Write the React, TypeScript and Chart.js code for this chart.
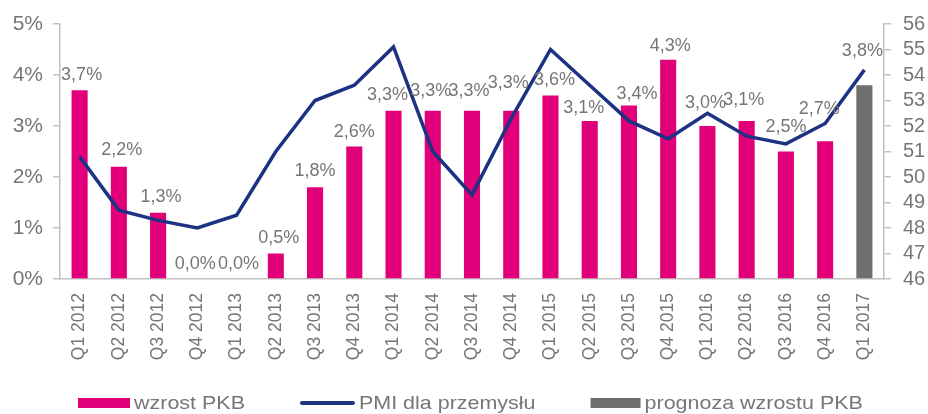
import React, { useEffect, useRef } from "react";
import { Chart, registerables } from "chart.js";

Chart.register(...registerables);

const categories = [
  "Q1 2012", "Q2 2012", "Q3 2012", "Q4 2012",
  "Q1 2013", "Q2 2013", "Q3 2013", "Q4 2013",
  "Q1 2014", "Q2 2014", "Q3 2014", "Q4 2014",
  "Q1 2015", "Q2 2015", "Q3 2015", "Q4 2015",
  "Q1 2016", "Q2 2016", "Q3 2016", "Q4 2016",
  "Q1 2017",
];
const gdpGrowth: (number | null)[] = [
  3.7, 2.2, 1.3, 0.0, 0.0, 0.5, 1.8, 2.6, 3.3, 3.3, 3.3, 3.3,
  3.6, 3.1, 3.4, 4.3, 3.0, 3.1, 2.5, 2.7, null,
];
const gdpForecast: (number | null)[] = [
  null, null, null, null, null, null, null, null, null, null, null, null,
  null, null, null, null, null, null, null, null, 3.8,
];
const pmi = [
  50.8, 48.7, 48.3, 48.0, 48.5, 51.0, 53.0, 53.6, 55.1, 51.0, 49.3, 52.3,
  55.0, 53.6, 52.2, 51.5, 52.5, 51.6, 51.3, 52.1, 54.2,
];
const leftTicks = [0, 1, 2, 3, 4, 5];
const rightTicks = [46, 47, 48, 49, 50, 51, 52, 53, 54, 55, 56];
const legendLabels = ["wzrost PKB", "PMI dla przemysłu", "prognoza wzrostu PKB"];

// label placement (style): lift above bar top and horizontal nudge, per category
const labelLift = [15, 17, 16, 15, 15, 15, 16, 14, 16, 20, 20, 28, 15, 13, 12, 14, 23, 21, 24, 32, 34];
const labelNudge = [2, 3, 3, -2, 2, 3, 0, 0, -6, -2, -3, -3, 4, -6, 8, 2, -2, -3, 0, -6, -2];

const PINK = "#E2007A";
const GREY_BAR = "#6F6F6F";
const NAVY = "#1D3282";
const TEXT = "#767676";
const AXIS = "#C0C0C0";
const FONT = "'Liberation Sans', Arial, sans-serif";

const fmt = (v: number) => v.toFixed(1).replace(".", ",") + "%";

const barLabels = {
  id: "barLabels",
  afterDatasetsDraw(chart: any) {
    const ctx = chart.ctx;
    ctx.save();
    ctx.font = "18px " + FONT;
    ctx.fillStyle = TEXT;
    ctx.textAlign = "center";
    ctx.textBaseline = "middle";
    [0, 2].forEach((di) => {
      const meta = chart.getDatasetMeta(di);
      const data = chart.data.datasets[di].data;
      meta.data.forEach((el: any, i: number) => {
        const v = data[i];
        if (v === null || v === undefined) return;
        ctx.fillText(fmt(v), el.x + labelNudge[i], el.y - labelLift[i]);
      });
    });
    ctx.restore();
  },
};

const customLegend = {
  id: "customLegend",
  afterDraw(chart: any) {
    const ctx = chart.ctx;
    ctx.save();
    const y = 403;
    const sx = 1.13;
    ctx.font = "19px " + FONT;
    ctx.textBaseline = "middle";
    let x = 78;
    const items = [
      { type: "box", color: PINK, w: 52 },
      { type: "line", color: NAVY, w: 55 },
      { type: "box", color: GREY_BAR, w: 50 },
    ];
    items.forEach((it, i) => {
      if (it.type === "box") {
        ctx.fillStyle = it.color;
        ctx.fillRect(x, y - 5, it.w, 10);
      } else {
        ctx.strokeStyle = it.color;
        ctx.lineWidth = 4;
        ctx.lineCap = "round";
        ctx.beginPath();
        ctx.moveTo(x + 2, y);
        ctx.lineTo(x + it.w - 2, y);
        ctx.stroke();
      }
      x += it.w + 4;
      const label = legendLabels[i];
      const tw = ctx.measureText(label).width * sx;
      ctx.save();
      ctx.translate(x, y + 1);
      ctx.scale(sx, 1);
      ctx.fillStyle = TEXT;
      ctx.textAlign = "left";
      ctx.fillText(label, 0, 0);
      ctx.restore();
      x += tw + 55;
    });
    ctx.restore();
  },
};

export default function App() {
  const ref = useRef<HTMLCanvasElement>(null);
  useEffect(() => {
    document.body.style.margin = "0";
    const canvas = ref.current!;
    const chart = new Chart(canvas, {
      type: "bar",
      data: {
        labels: categories,
        datasets: [
          {
            type: "bar",
            label: legendLabels[0],
            data: gdpGrowth,
            backgroundColor: PINK,
            yAxisID: "y",
            grouped: false,
            barPercentage: 0.41,
            categoryPercentage: 1,
            order: 2,
          } as any,
          {
            type: "line",
            label: legendLabels[1],
            data: pmi,
            borderColor: NAVY,
            borderWidth: 3.5,
            pointRadius: 0,
            tension: 0,
            yAxisID: "y1",
            order: 0,
          } as any,
          {
            type: "bar",
            label: legendLabels[2],
            data: gdpForecast,
            backgroundColor: GREY_BAR,
            yAxisID: "y",
            grouped: false,
            barPercentage: 0.41,
            categoryPercentage: 1,
            order: 1,
          } as any,
        ],
      },
      options: {
        animation: false,
        responsive: false,
        maintainAspectRatio: false,
        layout: { padding: { top: 19, left: 0, right: 0, bottom: 0 } },
        plugins: {
          legend: { display: false },
          tooltip: { enabled: false },
        },
        scales: {
          x: {
            afterFit: (s: any) => { s.height = 135; },
            grid: { display: false, drawTicks: false },
            border: { display: true, color: AXIS, width: 1.5 },
            ticks: {
              color: TEXT,
              font: { family: FONT, size: 17.5 },
              minRotation: 90,
              maxRotation: 90,
              padding: 14,
              autoSkip: false,
            },
          },
          y: {
            position: "left",
            min: 0,
            max: 5,
            afterFit: (s: any) => { s.width = 60; },
            afterBuildTicks: (s: any) => { s.ticks = leftTicks.map((v) => ({ value: v })); },
            grid: { drawOnChartArea: false, drawTicks: true, tickLength: 7, color: AXIS, lineWidth: 1.5 },
            border: { display: true, color: AXIS, width: 1.5 },
            ticks: {
              color: TEXT,
              padding: 10,
              autoSkip: false,
              font: { family: FONT, size: 21 },
              callback: (v: any) => v + "%",
            },
          },
          y1: {
            position: "right",
            min: 46,
            max: 56,
            afterFit: (s: any) => { s.width = 44; },
            afterBuildTicks: (s: any) => { s.ticks = rightTicks.map((v) => ({ value: v })); },
            grid: { drawOnChartArea: false, drawTicks: true, tickLength: 7, color: AXIS, lineWidth: 1.5 },
            border: { display: true, color: AXIS, width: 1.5 },
            ticks: {
              color: TEXT,
              padding: 12,
              autoSkip: false,
              font: { family: FONT, size: 20 },
            },
          },
        },
      } as any,
      plugins: [barLabels, customLegend],
    });
    return () => chart.destroy();
  }, []);
  return <canvas ref={ref} width={928} height={414} style={{ display: "block" }} />;
}
